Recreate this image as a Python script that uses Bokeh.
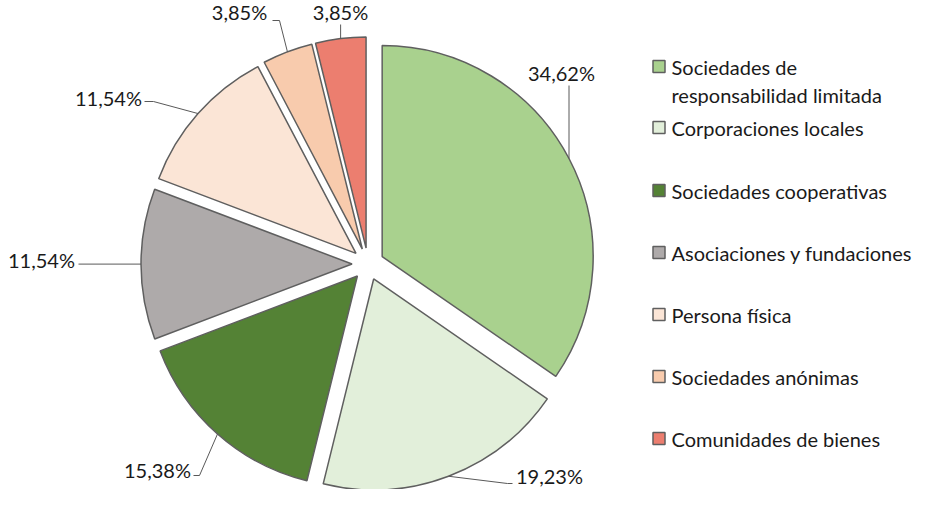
import numpy as np
from bokeh.plotting import figure
from bokeh.models import Range1d
from bokeh.embed import file_html
from bokeh.resources import INLINE
from bokeh.core.properties import value

# ---- data ----
categories = [
    "Sociedades de\nresponsabilidad limitada",
    "Corporaciones locales",
    "Sociedades cooperativas",
    "Asociaciones y fundaciones",
    "Persona física",
    "Sociedades anónimas",
    "Comunidades de bienes",
]
values = [34.62, 19.23, 15.38, 11.54, 11.54, 3.85, 3.85]
colors = ["#A9D18E", "#E2EFDA", "#548235", "#AEAAAA", "#FBE5D6", "#F8CBAD", "#EC7E6F"]
labels = [f"{v:.2f}".replace(".", ",") + "%" for v in values]

# ---- layout (reference pixel coordinates) ----
FONT = "Lato"
def Y(py):
    return 505 - py

CX, CY = 371.5, Y(276.5)
R = 211
D = 16
OUT = "#5f5f5f"

label_pos = [(565, 85), (553, 488), (161, 482), (45, 272), (112, 110), (243, 24), (344, 24)]
leader_mid = [
    [(None, 98)],
    [(511, 496), (516, 496)],
    [(203, 488), (197, 488)],
    [(82, None)],
    [(157, 114), (148, 114)],
    [(283, 33), (276, 33)],
    [(None, 37)],
]
legend_y = [79, 140, 203, 265, 327, 389, 451]
LEG_SQ_X = 662.5
LEG_TX_X = 675
LINE_H = 28

p = figure(width=916, height=489, x_range=Range1d(4, 920), y_range=Range1d(3, 492),
           output_backend="svg", toolbar_location=None, min_border=0,
           x_axis_location=None, y_axis_location=None)
p.grid.visible = False
p.outline_line_color = None
p.background_fill_color = "white"
p.border_fill_color = "white"

frac = np.array(values) / np.sum(values)
ends = np.cumsum(frac) * 360.0
starts = ends - frac * 360.0
mids = (starts + ends) / 2.0
rm = np.radians(mids)
sx = CX + D * np.sin(rm)
sy = CY + D * np.cos(rm)

p.wedge(x=sx, y=sy, radius=R,
        start_angle=np.radians(90 - starts), end_angle=np.radians(90 - ends),
        direction="clock", fill_color=colors, line_color=OUT, line_width=1.5)

ax = sx + R * np.sin(rm)
ay = sy + R * np.cos(rm)

xs, ys = [], []
for i in range(len(values)):
    lx = [ax[i]]
    ly = [ay[i]]
    for (px, py) in leader_mid[i]:
        lx.append(ax[i] if px is None else px)
        ly.append(ay[i] if py is None else Y(py))
    xs.append(lx)
    ys.append(ly)
p.multi_line(xs=xs, ys=ys, line_color="#595959", line_width=1)

p.text(x=[q[0] for q in label_pos], y=[Y(q[1]) for q in label_pos], text=labels,
       text_font=value(FONT), text_font_size="20px", text_color="#1a1a1a",
       text_align="center", text_baseline="middle")

# legend
p.rect(x=[LEG_SQ_X] * len(categories), y=[Y(v) for v in legend_y], width=12, height=12,
       fill_color=colors, line_color=OUT, line_width=1.5)
tx, ty, tt = [], [], []
for i, c in enumerate(categories):
    for j, line in enumerate(c.split("\n")):
        tx.append(LEG_TX_X)
        ty.append(Y(legend_y[i] + j * LINE_H))
        tt.append(line)
p.text(x=tx, y=ty, text=tt, text_font=value(FONT), text_font_size="20px",
       text_color="#1a1a1a", text_align="left", text_baseline="middle")

open("out.html", "w").write(file_html(p, INLINE))
